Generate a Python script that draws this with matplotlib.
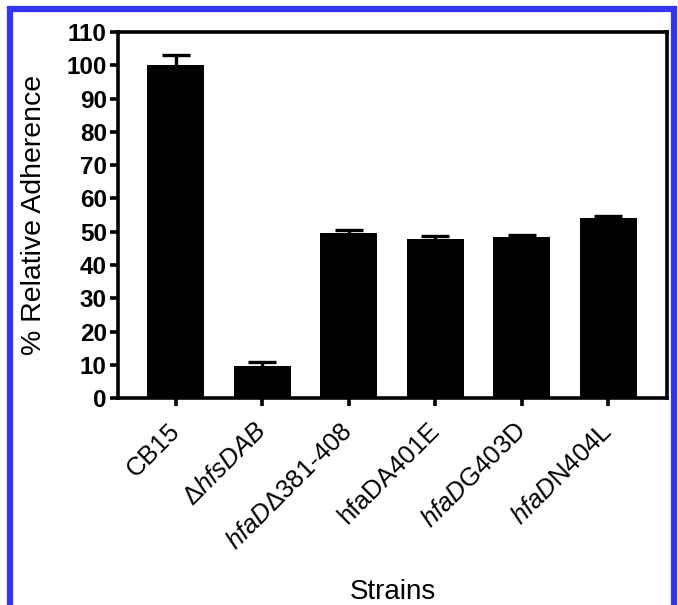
import matplotlib
matplotlib.use("Agg")
from matplotlib import pyplot as plt
from matplotlib.patches import Rectangle

strains = ["CB15", r"$\mathregular{Δ}\mathit{hfsDAB}$", r"$\mathit{hfaD}\mathregular{Δ381\text{-}408}$",
           "hfaDA401E", r"$\mathit{hfaD}\mathregular{G403D}$", r"$\mathit{hfaD}\mathregular{N404L}$"]
adherence = [100.0, 9.5, 49.5, 47.8, 48.3, 54.0]
errors = [3.0, 1.3, 0.9, 0.9, 0.6, 0.6]
yticks = list(range(0, 111, 10))

plt.rcParams["font.family"] = ["Liberation Sans", "DejaVu Sans"]
plt.rcParams["mathtext.fontset"] = "custom"
plt.rcParams["mathtext.rm"] = "Liberation Sans"
plt.rcParams["mathtext.it"] = "Liberation Sans:italic"

fig = plt.figure(figsize=(6.78, 6.05), dpi=100)
ax = fig.add_axes([0.174, 0.342, 0.81, 0.605])

x = list(range(len(strains)))
ax.bar(x, adherence, width=0.66, color="black", zorder=2)
eb = ax.errorbar(x, adherence, yerr=[[0] * len(errors), errors], fmt="none",
                 ecolor="black", elinewidth=2.4, capsize=10, capthick=2.4, zorder=1)
eb[1][0].set_visible(False)  # no cap at the bar top

ax.set_xlim(-0.67, 5.68)
ax.set_ylim(0, 110)
ax.set_yticks(yticks)
ax.set_xticks(x)
ax.set_xticklabels(strains, rotation=45, ha="right", va="center",
                   rotation_mode="anchor", fontsize=18.5)
for lab in ax.get_yticklabels():
    lab.set_fontweight("bold")
    lab.set_fontsize(17.5)

for s in ax.spines.values():
    s.set_linewidth(2.6)
ax.tick_params(axis="both", direction="out", length=6, width=2.6, top=False, right=False)
ax.tick_params(axis="y", pad=2)
ax.tick_params(axis="x", pad=15)

ax.set_ylabel("% Relative Adherence", fontsize=20.5, va="center")
ax.yaxis.set_label_coords(-0.152, 0.5)
ax.set_xlabel("Strains", fontsize=20, va="center")
ax.xaxis.set_label_coords(0.5, -0.53)

fig.patches.append(Rectangle((10 / 678, -0.05), 664 / 678, 1.05 - 9 / 605,
                             transform=fig.transFigure, fill=False,
                             edgecolor="#3434f4", linewidth=4.5))

fig.savefig("out.png", dpi=100)
